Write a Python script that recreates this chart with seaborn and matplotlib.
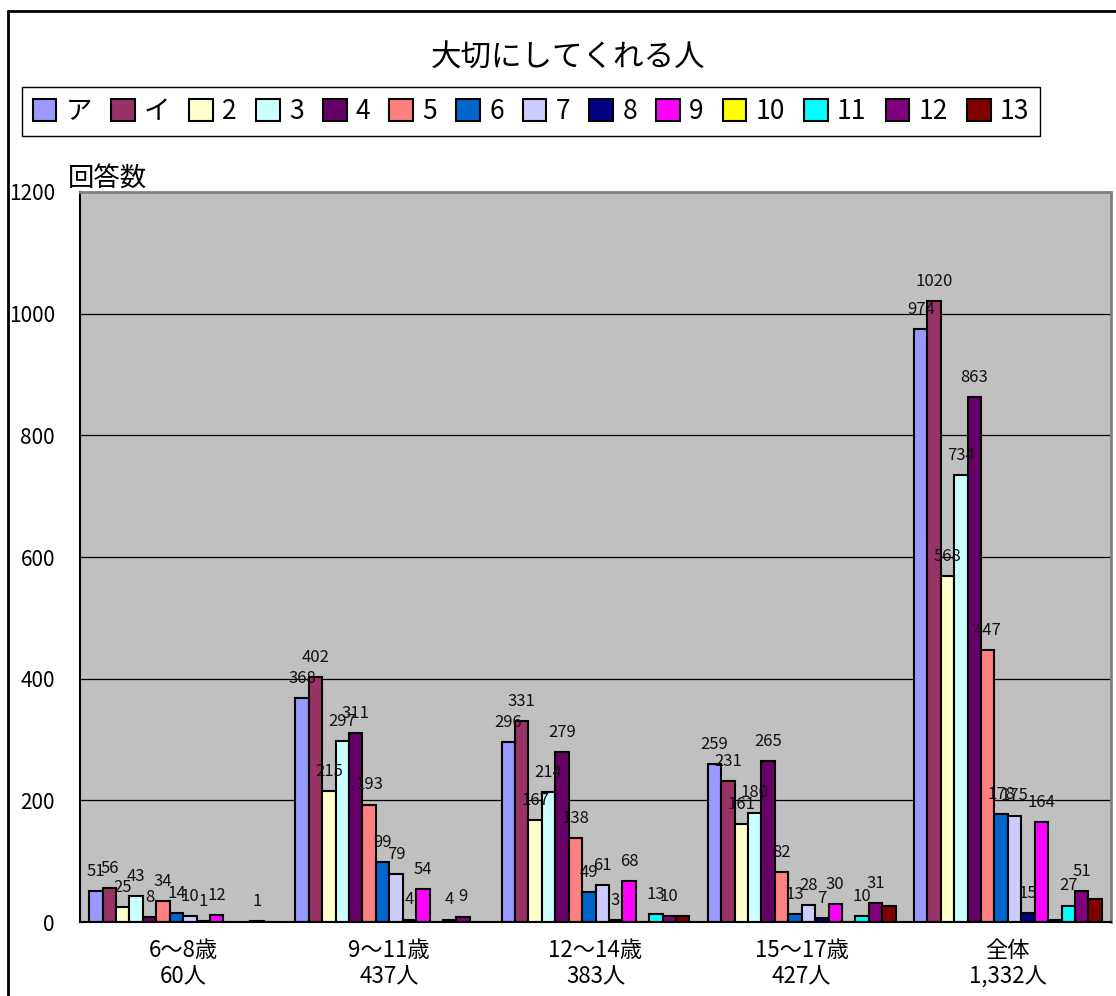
import matplotlib
matplotlib.use('Agg')
import matplotlib.pyplot as plt
import seaborn as sns
import pandas as pd
import numpy as np
from matplotlib.lines import Line2D

# 데이터
series = ['ア', 'イ', '2', '3', '4', '5', '6', '7', '8', '9', '10', '11', '12', '13']
groups = ['6～8歳\n60人', '9～11歳\n437人', '12～14歳\n383人', '15～17歳\n427人', '全体\n1,332人']
vals_6_8 = [51, 56, 25, 43, 8, 34, 14, 10, 1, 12, 0, 0, 1, 0]
vals_9_11 = [368, 402, 215, 297, 311, 193, 99, 79, 4, 54, 0, 4, 9, 0]
vals_12_14 = [296, 331, 167, 214, 279, 138, 49, 61, 3, 68, 0, 13, 10, 10]
vals_15_17 = [259, 231, 161, 180, 265, 82, 13, 28, 7, 30, 0, 10, 31, 26]
vals_all = [974, 1020, 568, 734, 863, 447, 178, 175, 15, 164, 3, 27, 51, 37]
no_label = ['10', '13']  # 데이터 라벨 없는 계열

colors = ['#9999FF', '#993366', '#FFFFCC', '#CCFFFF', '#660066', '#FF8080', '#0066CC',
          '#CCCCFF', '#000080', '#FF00FF', '#FFFF00', '#00FFFF', '#800080', '#800000']

rows = []
for g, vals in zip(groups, [vals_6_8, vals_9_11, vals_12_14, vals_15_17, vals_all]):
    for s, v in zip(series, vals):
        rows.append({'group': g, 'series': s, 'value': v})
df = pd.DataFrame(rows)

sns.set_style('white')
plt.rcParams['font.family'] = ['Noto Sans CJK JP', 'DejaVu Sans']
for k in ['text.color', 'axes.labelcolor', 'xtick.color', 'ytick.color']:
    plt.rcParams[k] = 'black'

W, H = 1116, 996
fig = plt.figure(figsize=(W / 100, H / 100), dpi=100)
ax = fig.add_axes([80 / W, 1 - 922 / H, (1111 - 80) / W, (922 - 192) / H])
ax.set_facecolor('#C0C0C0')

sns.barplot(data=df, x='group', y='value', hue='series', hue_order=series, order=groups,
            palette=colors, width=0.91, edgecolor='black', linewidth=1.5,
            saturation=1, errorbar=None, ax=ax)

# 데이터 라벨
for cont, s in zip(ax.containers, series):
    if s in no_label:
        continue
    labs = [str(int(b.get_height())) if b.get_height() > 0 else '' for b in cont]
    ax.bar_label(cont, labels=labs, padding=8, fontsize=12, color='#111111')

ax.set_ylim(0, 1200)
ax.set_yticks(range(0, 1201, 200))
ax.set_xlim(-0.5, 4.5)
ax.yaxis.grid(True, color='black', linewidth=0.9)
ax.set_axisbelow(True)
ax.tick_params(axis='y', length=0, labelsize=15, pad=18)
ax.tick_params(axis='x', which='major', length=0, labelsize=16, pad=12)
ax.set_xticks(np.arange(-0.5, 4.6, 1), minor=True)
ax.tick_params(axis='x', which='minor', direction='in', length=7, color='#555555')
ax.set_xlabel('')
ax.set_ylabel('')
for side in ['top', 'right']:
    ax.spines[side].set_color('#808080')
    ax.spines[side].set_linewidth(2)
for side in ['left', 'bottom']:
    ax.spines[side].set_color('black')
    ax.spines[side].set_linewidth(1.5)

# 범례
handles, labels = ax.get_legend_handles_labels()
ax.get_legend().remove()
fig.legend(handles, labels, ncol=14, mode='expand',
           bbox_to_anchor=(22 / W, 1 - 136 / H, (1040 - 22) / W, 49 / H), loc='center',
           fontsize=19, handlelength=0.9, handleheight=0.9, handletextpad=0.35,
           columnspacing=0.5, borderaxespad=0, fancybox=False, frameon=True,
           edgecolor='black', framealpha=1)

fig.text(568 / W, 1 - 58 / H, '大切にしてくれる人', ha='center', va='center', fontsize=22)
fig.text(68 / W, 1 - 178 / H, '回答数', ha='left', va='center', fontsize=19)

# 바깥 테두리
fig.add_artist(Line2D([8 / W, 8 / W], [0, 1 - 11 / H], transform=fig.transFigure, color='black', linewidth=2))
fig.add_artist(Line2D([8 / W, 1], [1 - 11 / H, 1 - 11 / H], transform=fig.transFigure, color='black', linewidth=2))

fig.savefig('out.png', dpi=100)
